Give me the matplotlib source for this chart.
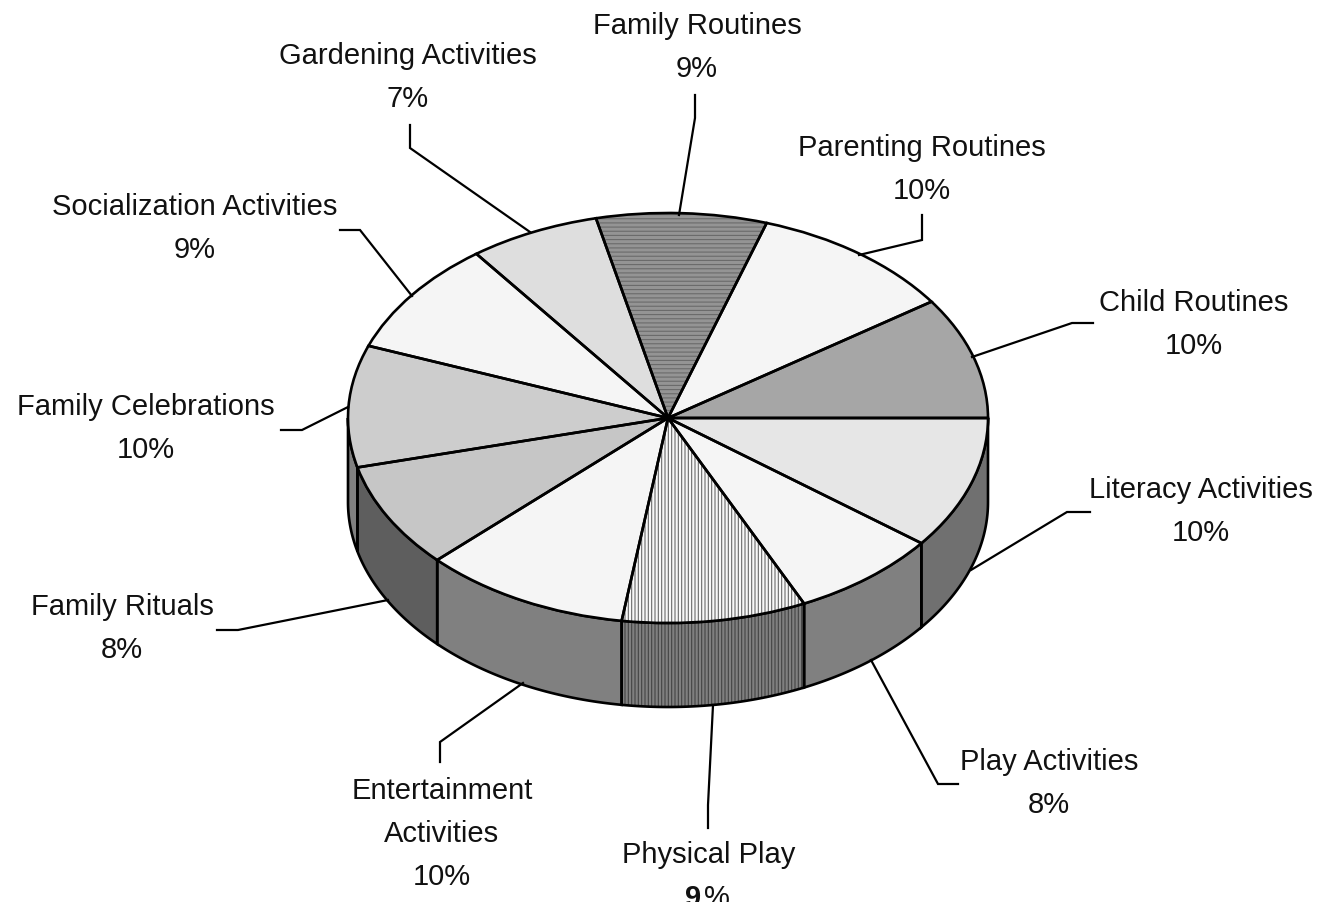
import matplotlib
matplotlib.use('Agg')
import matplotlib.pyplot as plt
import numpy as np

plt.rcParams['font.family'] = ['Liberation Sans', 'DejaVu Sans']
plt.rcParams['hatch.linewidth'] = 0.8

# clockwise from 3 o'clock
names = ['Literacy Activities', 'Play Activities', 'Physical Play', 'Entertainment\nActivities',
         'Family Rituals', 'Family Celebrations', 'Socialization Activities', 'Gardening Activities',
         'Family Routines', 'Parenting Routines', 'Child Routines']
pct_labels = ['10%', '8%', '9%', '10%', '8%', '10%', '9%', '7%', '9%', '10%', '10%']
shares = [10.45, 7.55, 9.3, 10.5, 8.3, 9.6, 9.05, 6.6, 8.6, 10.4, 9.6]

top_colors = ['#e6e6e6', '#f5f5f5', '#f8f8f8', '#f5f5f5', '#c6c6c6', '#cdcdcd',
              '#f5f5f5', '#dedede', '#949494', '#f5f5f5', '#a6a6a6']
side_colors = ['#707070', '#808080', '#808080', '#808080', '#5e5e5e', '#808080',
               '#808080', '#808080', '#808080', '#808080', '#808080']
hatches = [None, None, '|||||', None, None, None, None, None, '----', None, None]

# layout in pixels of the reference
W, H = 1317, 908
CX, CY, RX, RY, DEPTH = 668, 418, 320, 205, 84
label_xy = [(1201, 490), (1049, 762), (709, 855), (442, 791), (122, 607), (146, 407),
            (195, 207), (408, 56), (697, 26), (922, 148), (1194, 303)]
leaders = [[(971, 570), (1067, 512), (1090, 512)], [(871, 660), (938, 784), (958, 784)],
           [(713, 705), (708, 805), (708, 828)], [(523, 683), (440, 742), (440, 762)],
           [(388, 600), (238, 630), (217, 630)], [(348, 407), (302, 430), (281, 430)],
           [(412, 296), (360, 230), (340, 230)], [(530, 232), (410, 148), (410, 125)],
           [(679, 215), (695, 118), (695, 95)], [(859, 255), (922, 240), (922, 215)],
           [(972, 357), (1072, 323), (1093, 323)]]
LINE_H = 43
FONT = 21
LW = 1.9

fig = plt.figure(figsize=(W / 100, H / 100), dpi=100)
ax = fig.add_axes([0, 0, 1, 1])

# side wall, only the front half of the pie shows
edges = np.cumsum([0] + shares) / sum(shares) * 360
depth = DEPTH / RY
for i in range(len(shares)):
    a0 = -edges[i]
    a1 = max(-edges[i + 1], -180)
    if a1 >= a0:
        continue
    t = np.radians(np.linspace(a0, a1, 60))
    xs = np.r_[np.cos(t), np.cos(t[::-1])]
    ys = np.r_[np.sin(t), np.sin(t[::-1]) - depth]
    ax.fill(xs, ys, facecolor=side_colors[i], edgecolor='none', zorder=1)
    if hatches[i]:
        ax.fill(xs, ys, facecolor='none', edgecolor='#444444', hatch=hatches[i], linewidth=0, zorder=1.1)
    ax.fill(xs, ys, facecolor='none', edgecolor='black', linewidth=LW, zorder=1.2)

# top face
wedges, _ = ax.pie(shares, colors=top_colors, startangle=0, counterclock=False, radius=1,
                   wedgeprops={'linewidth': 0, 'zorder': 2})
for w, h in zip(wedges, hatches):
    if h:
        w.set_hatch(h)
        w.set_edgecolor('#6a6a6a')
outline, _ = ax.pie(shares, colors=['none'] * len(shares), startangle=0, counterclock=False, radius=1,
                    wedgeprops={'linewidth': LW, 'edgecolor': 'black', 'zorder': 3})

ax.set_aspect('auto')
ax.set_xlim((0 - CX) / RX, (W - CX) / RX)
ax.set_ylim((CY - H) / RY, CY / RY)
ax.axis('off')

# labels and leader lines
ov = fig.add_axes([0, 0, 1, 1], facecolor='none')
ov.set_xlim(0, W)
ov.set_ylim(H, 0)
ov.axis('off')
for name, pct, (lx, ly), pts in zip(names, pct_labels, label_xy, leaders):
    ov.plot([p[0] for p in pts], [p[1] for p in pts], color='black', lw=1.6,
            solid_joinstyle='miter', zorder=4)
    lines = name.split('\n')
    for k, line in enumerate(lines):
        ov.text(lx, ly + k * LINE_H, line, ha='center', va='center', fontsize=FONT, color='#111111')
    y_pct = ly + len(lines) * LINE_H
    if name == 'Physical Play':
        # the 9 is bold in the original and the row is cut off by the bottom edge
        ov.text(lx - 24, y_pct, pct[0], ha='left', va='center', fontsize=FONT, fontweight='bold', color='#111111')
        ov.text(lx - 5, y_pct, pct[1:], ha='left', va='center', fontsize=FONT, color='#111111')
    else:
        ov.text(lx, y_pct, pct, ha='center', va='center', fontsize=FONT, color='#111111')
ov.fill_between([0, W], 902, H, color='white', zorder=6, linewidth=0)

fig.savefig('out.png', dpi=100)
